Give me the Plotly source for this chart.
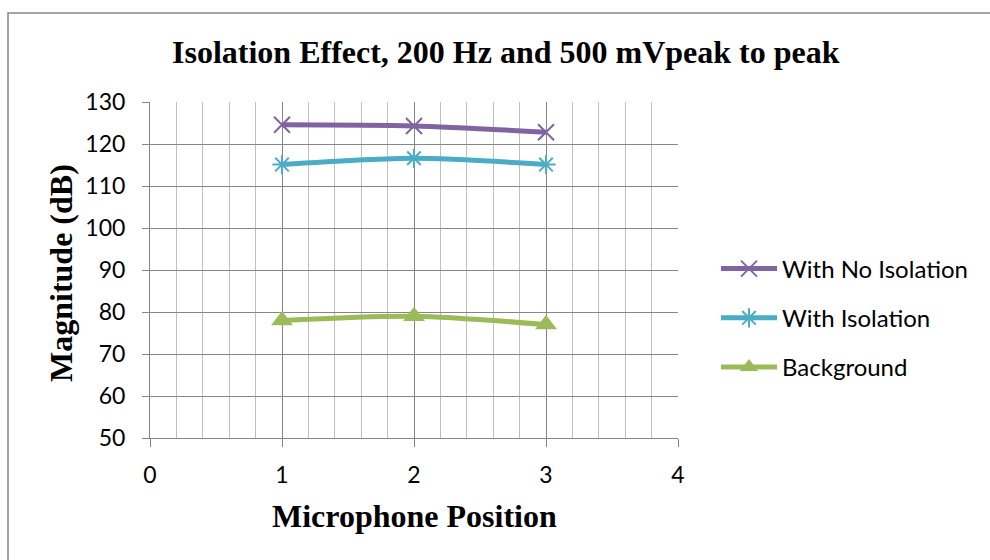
import plotly.graph_objects as go

positions = [1, 2, 3]
no_isolation = [124.6, 124.3, 122.8]
with_isolation = [115.1, 116.6, 115.1]
background = [78, 79, 77]
series_names = ["With No Isolation", "With Isolation", "Background"]
title_text = "Isolation Effect, 200 Hz and 500 mVpeak to peak"
x_title = "Microphone Position"
y_title = "Magnitude (dB)"

purple = "#8064A2"
blue = "#4BACC6"
green = "#9BBB59"
axis_gray = "#868686"
minor_gray = "#BFBFBF"

W, H = 990, 560
L, R, T, B = 150, 312, 102, 122
PW, PH = W - L - R, H - T - B


def px(xp):
    return (xp - L) / PW


def py(yp):
    return (H - B - yp) / PH


fig = go.Figure()
colors = [purple, blue, green]
symbols = ["x-thin", "asterisk", "triangle-up"]
sizes = [16, 16, 19]
for i, vals in enumerate([no_isolation, with_isolation, background]):
    col = colors[i]
    if symbols[i] == "triangle-up":
        marker = dict(symbol=symbols[i], size=sizes[i], color=col, line=dict(width=0))
    else:
        marker = dict(symbol=symbols[i], size=sizes[i], color=col, line=dict(width=2, color=col))
    fig.add_trace(go.Scatter(
        x=positions, y=vals, name=series_names[i], mode="lines+markers",
        line=dict(color=col, width=5, shape="spline", smoothing=0.8),
        marker=marker, legendgroup=f"g{i}",
    ))

label_font = dict(family="Lato, Liberation Sans, sans-serif", size=23, color="#000000")
legend_font = dict(family="Lato, Liberation Sans, sans-serif", size=24, color="#000000")
serif_bold = dict(family="Liberation Serif, Times New Roman, serif", size=32, color="#000000")

fig.update_layout(
    width=W, height=H,
    margin=dict(l=L, r=R, t=T, b=B),
    paper_bgcolor="white", plot_bgcolor="white",
    showlegend=True,
    legend=dict(
        x=px(716), y=py(318), xanchor="left", yanchor="middle",
        font=legend_font, bgcolor="rgba(0,0,0,0)", borderwidth=0,
        tracegroupgap=15, traceorder="grouped", itemwidth=56,
    ),
    xaxis=dict(
        range=[0, 4], dtick=1, tick0=0, showgrid=True, gridcolor=axis_gray, gridwidth=1,
        minor=dict(dtick=0.2, showgrid=True, gridcolor=minor_gray, gridwidth=1),
        showline=True, linecolor=axis_gray, linewidth=1,
        ticks="outside", ticklen=8, tickcolor=axis_gray, tickfont=label_font,
        ticklabelstandoff=8, zeroline=False,
    ),
    yaxis=dict(
        range=[50, 130], dtick=10, tick0=50, showgrid=True, gridcolor=axis_gray, gridwidth=1,
        showline=True, linecolor=axis_gray, linewidth=1,
        ticks="outside", ticklen=7, tickcolor=axis_gray, tickfont=label_font,
        ticklabelstandoff=12, zeroline=False,
    ),
    annotations=[
        dict(text=f"<b>{title_text}</b>", x=px(506), y=py(52), xref="paper", yref="paper",
             xanchor="center", yanchor="middle", showarrow=False, font=serif_bold),
        dict(text=f"<b>{x_title}</b>", x=px(414), y=py(516), xref="paper", yref="paper",
             xanchor="center", yanchor="middle", showarrow=False, font=serif_bold),
        dict(text=f"<b>{y_title}</b>", x=px(61), y=py(273), xref="paper", yref="paper",
             xanchor="center", yanchor="middle", showarrow=False, font=serif_bold,
             textangle=-90),
    ],
    shapes=[
        dict(type="rect", xref="paper", yref="paper",
             x0=px(8), x1=px(1000), y0=py(575), y1=py(13),
             line=dict(color=axis_gray, width=1.5), fillcolor="rgba(0,0,0,0)", layer="below"),
    ],
)

fig.write_html("out.html")
